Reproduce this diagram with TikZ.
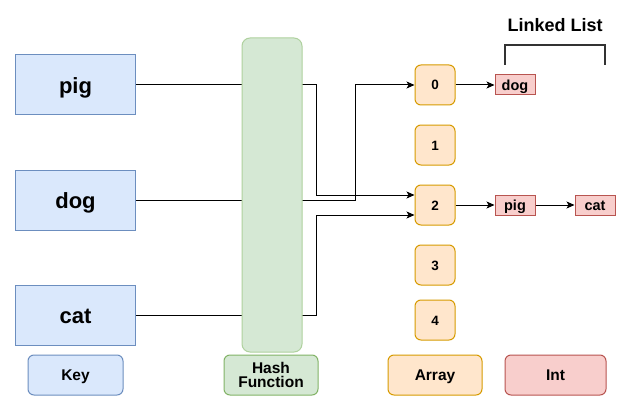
\documentclass[tikz,border=0pt]{standalone}
\usepackage{fontspec}
\setmainfont{Liberation Sans}
\usetikzlibrary{arrows.meta}
\definecolor{keyfill}{HTML}{DAE8FC}
\definecolor{keyline}{HTML}{6C8EBF}
\definecolor{hashfill}{HTML}{D5E8D4}
\definecolor{hashline}{HTML}{82B366}
\definecolor{hashlight}{HTML}{AFD19E}
\definecolor{arrfill}{HTML}{FFE6CC}
\definecolor{arrline}{HTML}{D79B00}
\definecolor{intfill}{HTML}{F8CECC}
\definecolor{intline}{HTML}{B85450}
\definecolor{brk}{HTML}{333333}
\pgfdeclarelayer{bg}
\pgfsetlayers{bg,main}
\tikzset{
  box/.style={draw, line width=1pt, inner sep=0pt, align=center, font=\bfseries},
  keybox/.style={box, text height=16.5pt, text depth=0pt, fill=keyfill, draw=keyline, minimum width=120pt, minimum height=60pt, font=\bfseries\fontsize{22}{24}\selectfont},
  hashbox/.style={box, fill=hashfill, draw=hashlight, rounded corners=8pt, minimum width=60pt, minimum height=314pt},
  arrbox/.style={box, text height=10pt, text depth=0pt, fill=arrfill, draw=arrline, rounded corners=6pt, minimum width=40pt, minimum height=40pt, font=\bfseries\fontsize{13.5}{15}\selectfont},
  intbox/.style={box, text height=11pt, text depth=0pt, fill=intfill, draw=intline, minimum width=40pt, minimum height=20pt, font=\bfseries\fontsize{14.5}{16}\selectfont},
  legbox/.style={box, rounded corners=6pt, minimum height=40pt, font=\bfseries\fontsize{15.5}{14.5}\selectfont},
  legone/.style={legbox, text height=11pt, text depth=0pt},
  conn/.style={draw=black, line width=1pt, -{Stealth[length=8pt,width=7pt,inset=2pt]}},
}
\begin{document}
\begin{tikzpicture}[x=1pt,y=-1pt]
\begin{pgfonlayer}{bg}
\fill[white] (0,0) rectangle (631,417);
\end{pgfonlayer}
\useasboundingbox (0,0) rectangle (631,417);
% keys
\node[keybox] (pig) at (75.5,85) {pig};
\node[keybox] (dog) at (75.5,200) {dog};
\node[keybox] (cat) at (75.5,315) {cat};
% hash function
\node[hashbox] (hash) at (272,195) {};
% array
\node[arrbox] (a0) at (435,85) {0};
\node[arrbox] (a1) at (435,145) {1};
\node[arrbox] (a2) at (435,205) {2};
\node[arrbox] (a3) at (435,265) {3};
\node[arrbox] (a4) at (435,320) {4};
% linked list items
\node[intbox] (ldog) at (515,85) {dog};
\node[intbox] (lpig) at (515,205) {pig};
\node[intbox] (lcat) at (595,205) {cat};
% linked list label and bracket
\node[text height=13.5pt, text depth=0pt, inner sep=0pt, font=\bfseries\fontsize{18}{20}\selectfont] (lltitle) at (555,25) {Linked List};
\coordinate (b1) at (505,65);
\coordinate (b2) at (605,65);
\draw[brk, line width=2pt] (b1) -- (505,45) -- (605,45) -- (b2);
% legend
\node[legone, fill=keyfill, draw=keyline, minimum width=95pt] (lgkey) at (75.5,375) {Key};
\node[legbox, fill=hashfill, draw=hashline, minimum width=94pt] (lghash) at (271,375) {Hash\\Function};
\node[legone, fill=arrfill, draw=arrline, minimum width=94pt] (lgarr) at (435,375) {Array};
\node[legone, fill=intfill, draw=intline, minimum width=101pt] (lgint) at (555.5,375) {Int};
% connectors (behind the hash box)
\begin{pgfonlayer}{bg}
\draw[conn] (pig.east) -- (316,85) |- ([yshift=10pt]a2.west);
\draw[conn] (dog.east) -- (355,200) |- (a0.west);
\draw[conn] (cat.east) -- (316,315) |- ([yshift=-10pt]a2.west);
\end{pgfonlayer}
\draw[conn] (a0.east) -- (ldog.west);
\draw[conn] (a2.east) -- (lpig.west);
\draw[conn] (lpig.east) -- (lcat.west);
\end{tikzpicture}
\end{document}
